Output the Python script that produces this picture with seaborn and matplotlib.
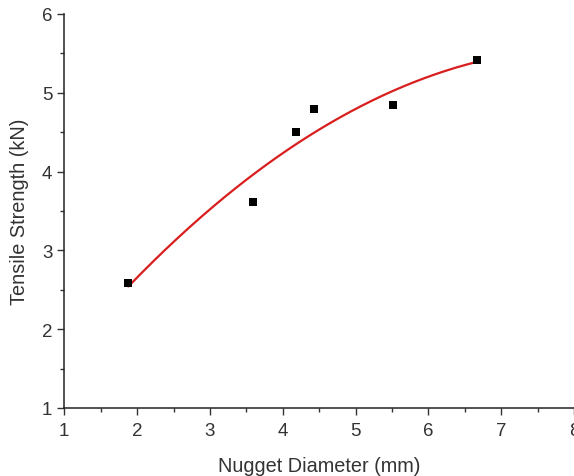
import numpy as np
import pandas as pd
import seaborn as sns
import matplotlib.pyplot as plt
from matplotlib.ticker import MultipleLocator

# nugget diameter (mm) vs tensile strength (kN)
diameter = [1.88, 3.59, 4.18, 4.43, 5.52, 6.67]
strength = [2.59, 3.61, 4.50, 4.79, 4.85, 5.42]

df = pd.DataFrame({"d": diameter, "s": strength})

# 2nd order polynomial fit, like the original
coef = np.polyfit(df["d"], df["s"], 2)
xfit = np.linspace(min(diameter), max(diameter), 200)
yfit = np.polyval(coef, xfit)

sns.set_style("ticks")
plt.rcParams["font.family"] = ["Liberation Sans", "DejaVu Sans"]

fig = plt.figure(figsize=(5.74, 4.77), dpi=100)
ax = fig.add_axes([0.112, 0.1426, 0.888, 0.826])

sns.lineplot(x=xfit, y=yfit, ax=ax, color="#d91e1e", linewidth=1.6, zorder=2)
sns.scatterplot(data=df, x="d", y="s", ax=ax, marker="s", color="black",
                s=40, edgecolor="black", linewidth=0, zorder=3)

ax.set_xlim(1, 8)
ax.set_ylim(1, 6)
ax.xaxis.set_major_locator(MultipleLocator(1))
ax.xaxis.set_minor_locator(MultipleLocator(0.5))
ax.yaxis.set_major_locator(MultipleLocator(1))
ax.yaxis.set_minor_locator(MultipleLocator(0.5))
ax.tick_params(which="major", length=5, width=1, colors="#333333", labelsize=13.5)
ax.tick_params(which="minor", length=3, width=1, colors="#333333")
ax.tick_params(axis="x", pad=5)

ax.set_xlabel("Nugget Diameter (mm)", fontsize=14.3, color="#333333", labelpad=12)
ax.set_ylabel("Tensile Strength (kN)", fontsize=14.3, color="#333333", labelpad=9)

sns.despine(ax=ax)
for sp in ("left", "bottom"):
    ax.spines[sp].set_color("#222222")
    ax.spines[sp].set_linewidth(1.1)

fig.savefig("out.png", dpi=100)
